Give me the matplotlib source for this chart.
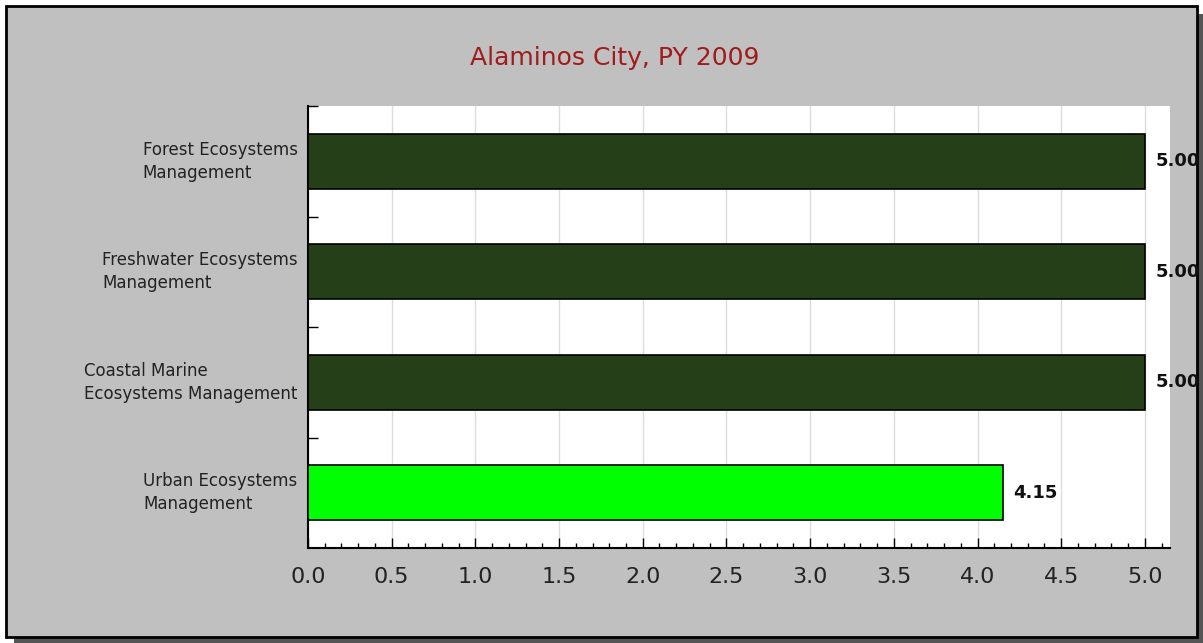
import matplotlib
matplotlib.use("Agg")
import matplotlib.pyplot as plt
from matplotlib.patches import Rectangle
from matplotlib.ticker import MultipleLocator

# data, top to bottom
categories = ["Forest Ecosystems\nManagement",
              "Freshwater Ecosystems\nManagement",
              "Coastal Marine\nEcosystems Management",
              "Urban Ecosystems\nManagement"]
scores = [5.00, 5.00, 5.00, 4.15]
bar_colors = ["#253f19", "#253f19", "#253f19", "#00ff00"]
title = "Alaminos City, PY 2009"

W, H = 1203, 643
fig = plt.figure(figsize=(W / 100, H / 100), dpi=100)
fig.patch.set_facecolor("white")

# shadow + grey panel with black border
fig.patches.append(Rectangle((14 / W, 0), (W - 14) / W, (H - 14) / H,
                             transform=fig.transFigure, facecolor="#555555",
                             edgecolor="none", zorder=0))
fig.patches.append(Rectangle((6 / W, 1 - 637 / H), (1197 - 6) / W, (637 - 6) / H,
                             transform=fig.transFigure, facecolor="#c0c0c0",
                             edgecolor="black", linewidth=2, zorder=1))

ax = fig.add_axes([308 / W, 1 - 548 / H, (1170 - 308) / W, (548 - 106) / H])
ax.set_facecolor("white")
ax.set_zorder(2)

ypos = list(range(len(categories)))
ax.barh(ypos, scores, height=0.5, color=bar_colors, edgecolor="black",
        linewidth=1.2, zorder=3)

for y, v in zip(ypos, scores):
    ax.text(v + 0.065, y, f"{v:.2f}", va="center", ha="left",
            fontsize=13, fontweight="bold", color="#111111", zorder=4)

for y, lab in zip(ypos, categories):
    ax.text(-0.012, y, lab, transform=ax.get_yaxis_transform(), ha="right",
            va="center", multialignment="left", fontsize=12,
            color="#222222", linespacing=1.35)

ax.set_xlim(0, 5.15)
ax.set_ylim(3.5, -0.5)

ax.xaxis.set_major_locator(MultipleLocator(0.5))
ax.xaxis.set_minor_locator(MultipleLocator(0.1))
ax.xaxis.set_major_formatter(matplotlib.ticker.FormatStrFormatter("%.1f"))
ax.set_yticks([-0.5, 0.5, 1.5, 2.5])
ax.set_yticklabels([])

ax.tick_params(axis="x", which="major", direction="in", length=7, width=1,
               labelsize=16, labelcolor="#222222", pad=14)
ax.tick_params(axis="x", which="minor", direction="in", length=3.5, width=1)
ax.tick_params(axis="y", which="major", direction="in", length=7, width=1)

ax.grid(axis="x", which="major", color="#dddddd", linewidth=1, zorder=0)
ax.set_axisbelow(True)

for s in ["top", "right"]:
    ax.spines[s].set_visible(False)
for s in ["left", "bottom"]:
    ax.spines[s].set_linewidth(1.5)

fig.text(615 / W, 1 - 58 / H, title, ha="center", va="center",
         fontsize=18, color="#a01c1c")

fig.savefig("out.png", dpi=100)
